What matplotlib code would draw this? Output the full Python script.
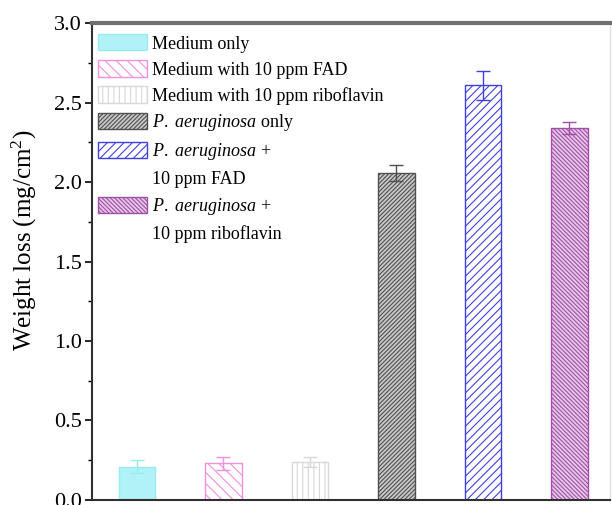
import numpy as np
import matplotlib
matplotlib.use("Agg")
import matplotlib.pyplot as plt
from matplotlib.patches import Patch

plt.rcParams['font.family'] = ['Liberation Serif', 'DejaVu Serif']
plt.rcParams['mathtext.fontset'] = 'custom'
plt.rcParams['mathtext.rm'] = 'Liberation Serif'
plt.rcParams['mathtext.it'] = 'Liberation Serif:italic'
plt.rcParams['hatch.linewidth'] = 0.8

# データ
labels = ['Medium only', 'Medium with 10 ppm FAD', 'Medium with 10 ppm riboflavin',
          r'$\it{P.}$ $\it{aeruginosa}$ only', r'$\it{P.}$ $\it{aeruginosa}$ +',
          r'$\it{P.}$ $\it{aeruginosa}$ +']
second_lines = [None, None, None, None, '10 ppm FAD', '10 ppm riboflavin']
values = [0.21, 0.23, 0.24, 2.06, 2.61, 2.34]
errors = [0.04, 0.04, 0.03, 0.05, 0.09, 0.04]

faces = ['#b0f2f6', 'white', 'white', '#c8c8c8', 'white', '#e6c8e6']
edges = ['#98ecf0', '#f090e0', '#d8d8d8', '#505050', '#4040e0', '#a050a8']
hatches = [None, '\\\\\\', '|||', '////////', '////', '\\\\\\\\\\\\\\\\']

fig = plt.figure(figsize=(6.12, 5.05), dpi=100)
ax = fig.add_axes([0.150, 0.010, 0.847, 0.944])

x = np.arange(1, len(values) + 1)
for i in range(len(values)):
    ax.bar(x[i], values[i], width=0.42, color=faces[i], edgecolor=edges[i],
           hatch=hatches[i], linewidth=1.0, zorder=2)
    ax.errorbar(x[i], values[i], yerr=errors[i], fmt='none', ecolor=edges[i],
                capsize=5, elinewidth=1.0, capthick=1.0, zorder=3)

ax.set_xlim(0.48, 6.47)
ax.set_ylim(0, 3.0)
ax.set_yticks(np.arange(0, 3.01, 0.5))
ax.set_yticks(np.arange(0.25, 3.0, 0.5), minor=True)
ax.set_xticks([])
ax.tick_params(axis='y', which='major', direction='out', length=5, width=1.2,
               labelsize=16, pad=2)
ax.tick_params(axis='y', which='minor', direction='out', length=3, width=1.0)
ax.set_ylabel('Weight loss (mg/cm$^2$)', fontsize=18)
ax.yaxis.set_label_coords(-0.102, 0.545)

for s in ['left', 'bottom']:
    ax.spines[s].set_linewidth(1.5)
    ax.spines[s].set_color('#303030')
ax.spines['top'].set_linewidth(3)
ax.spines['top'].set_color('#707070')
ax.spines['right'].set_linewidth(1.0)
ax.spines['right'].set_color('#e0e0e0')

# 凡例（2行目は空のハンドル）
handles = []
texts = []
for i in range(len(values)):
    handles.append(Patch(facecolor=faces[i], edgecolor=edges[i], hatch=hatches[i]))
    texts.append(labels[i])
    if second_lines[i]:
        handles.append(Patch(facecolor='none', edgecolor='none'))
        texts.append(second_lines[i])

ax.legend(handles, texts, loc='upper left', bbox_to_anchor=(0.0, 0.99),
          frameon=False, fontsize=13, handlelength=2.7, handleheight=1.0,
          handletextpad=0.3, labelspacing=0.43, borderaxespad=0.15,
          borderpad=0.2)

fig.savefig('out.png', dpi=100)
